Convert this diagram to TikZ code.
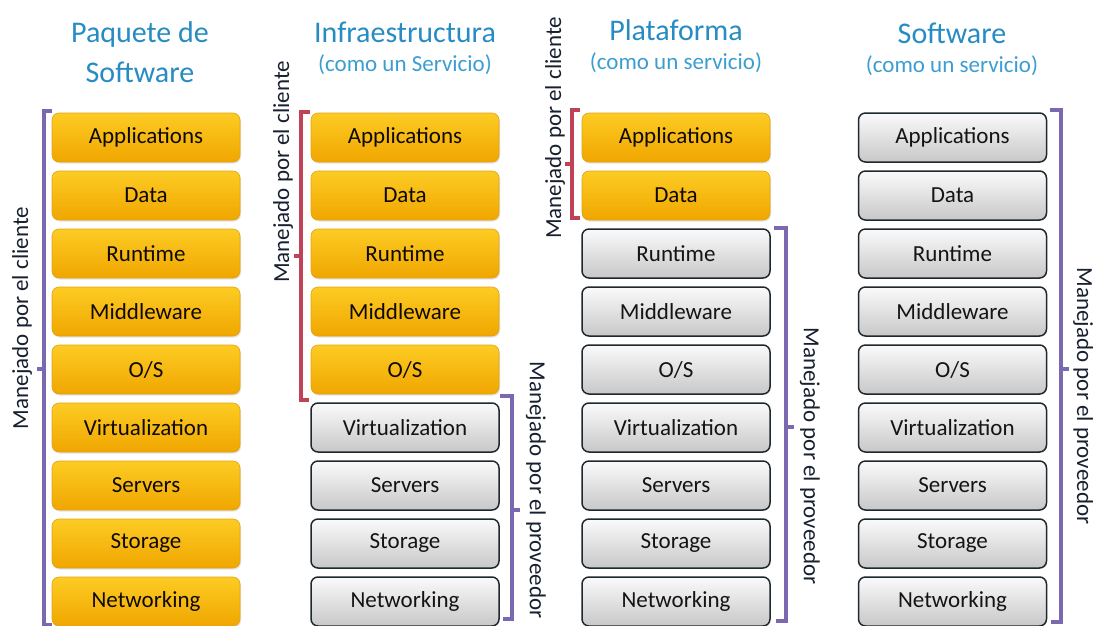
\documentclass[tikz,border=0pt]{standalone}
\usepackage{fontspec}
\setmainfont{Carlito}
\usetikzlibrary{shadows}

\definecolor{titleblue}{RGB}{38,140,195}
\definecolor{subblue}{RGB}{60,158,208}
\definecolor{goldtop}{RGB}{252,204,36}
\definecolor{goldbot}{RGB}{240,166,0}
\definecolor{goldedge}{RGB}{226,164,18}
\definecolor{greytop}{RGB}{250,250,250}
\definecolor{greybot}{RGB}{200,200,200}
\definecolor{boxedge}{RGB}{30,40,46}
\definecolor{clientred}{RGB}{192,66,86}
\definecolor{providerpurple}{RGB}{124,104,176}
\definecolor{labelink}{RGB}{24,32,48}

\begin{document}
\begin{tikzpicture}[x=1pt,y=-1pt,
  layer/.style={rounded corners=7pt, minimum width=188pt, minimum height=49pt,
    inner sep=0pt, font=\fontsize{23}{26}\selectfont},
  client/.style={layer, top color=goldtop, bottom color=goldbot, draw=goldedge,
    line width=0.6pt, text=black!92!brown,
    drop shadow={opacity=0.22, shadow xshift=1pt, shadow yshift=-1.5pt}},
  provider/.style={layer, top color=greytop, bottom color=greybot, draw=boxedge,
    line width=1.5pt, text=black!92},
  coltitle/.style={anchor=base, text=titleblue, font=\fontsize{30}{34}\selectfont},
  colsub/.style={anchor=base, text=subblue, font=\fontsize{23}{26}\selectfont},
  bracket/.style={line width=3.5pt, line cap=butt, line join=miter},
  clientbracket/.style={bracket, draw=clientred},
  providerbracket/.style={bracket, draw=providerpurple},
  sidelabel/.style={text=labelink, font=\fontsize{23}{26}\selectfont, inner sep=0pt}
]
\useasboundingbox (0,0) rectangle (1097,626);
\fill[white] (0,0) rectangle (1097,626);

% column headings
\node[coltitle] (t1a) at (140,43) {Paquete de};
\node[coltitle] (t1b) at (140,82) {Software};
\node[coltitle] (t2a) at (405,43) {Infraestructura};
\node[colsub]   (t2b) at (405,71) {(como un Servicio)};
\node[coltitle] (t3a) at (676,41) {Plataforma};
\node[colsub]   (t3b) at (676,70) {(como un servicio)};
\node[coltitle] (t4a) at (952,44) {Software};
\node[colsub]   (t4b) at (952,73) {(como un servicio)};

% the nine layers of each stack
\def\layernames{Applications,Data,Runtime,Middleware,O/S,Virtualization,Servers,Storage,Networking}

% Paquete de Software: everything handled by the client
\foreach \name [count=\i] in \layernames
  \node[client] (p\i) at (146,{137.5+58*(\i-1)}) {\name};

% Infraestructura: five client layers, four provider layers
\foreach \name [count=\i] in \layernames {
  \ifnum\i<6
    \node[client] (i\i) at (405,{137.5+58*(\i-1)}) {\name};
  \else
    \node[provider] (i\i) at (405,{137.5+58*(\i-1)}) {\name};
  \fi
}

% Plataforma: two client layers, seven provider layers
\foreach \name [count=\i] in \layernames {
  \ifnum\i<3
    \node[client] (l\i) at (676,{137.5+58*(\i-1)}) {\name};
  \else
    \node[provider] (l\i) at (676,{137.5+58*(\i-1)}) {\name};
  \fi
}

% Software como servicio: everything handled by the provider
\foreach \name [count=\i] in \layernames
  \node[provider] (s\i) at (952.5,{137.5+58*(\i-1)}) {\name};

% brackets
\draw[providerbracket] (52,111) -- (44,111) -- (44,625) -- (52,625);
\draw[providerbracket] (44,369) -- (37,369);

\draw[clientbracket] (310,112) -- (301,112) -- (301,400) -- (309,400);
\draw[clientbracket] (301,256) -- (294,256);

\draw[providerbracket] (500,396) -- (512,396) -- (512,619) -- (503,619);
\draw[providerbracket] (512,510) -- (520,510);

\draw[clientbracket] (580,110) -- (572,110) -- (572,218) -- (580,218);
\draw[clientbracket] (572,164) -- (565,164);

\draw[providerbracket] (774,228) -- (786,228) -- (786,621) -- (776,621);
\draw[providerbracket] (786,427) -- (794,427);

\draw[providerbracket] (1050,110) -- (1061,110) -- (1061,622) -- (1051,622);
\draw[providerbracket] (1061,369) -- (1069,369);

% bracket captions
\node[sidelabel, rotate=90]  (c1) at (22,318)  {Manejado por el cliente};
\node[sidelabel, rotate=90]  (c2) at (283,172) {Manejado por el cliente};
\node[sidelabel, rotate=-90] (c3) at (536,490) {Manejado por el proveedor};
\node[sidelabel, rotate=90]  (c4) at (555,128) {Manejado por el cliente};
\node[sidelabel, rotate=-90] (c5) at (810,456) {Manejado por el proveedor};
\node[sidelabel, rotate=-90] (c6) at (1083,396) {Manejado por el proveedor};
\end{tikzpicture}
\end{document}
